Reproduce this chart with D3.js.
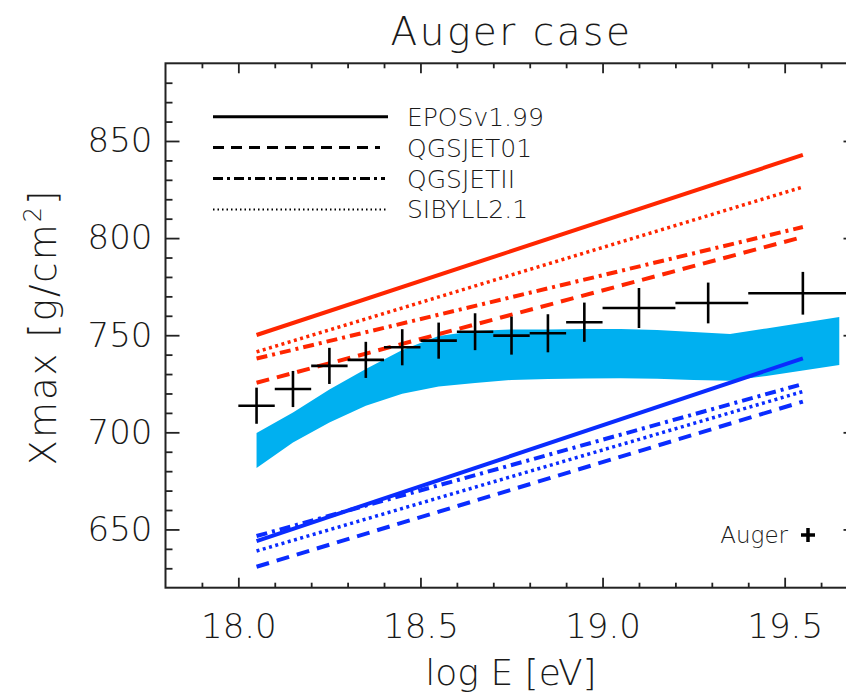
<!DOCTYPE html>
<html>
<head>
<meta charset="utf-8">
<script src="https://cdn.jsdelivr.net/npm/d3@7"></script>
<style>
  body { margin: 0; background: #fff; }
  text { font-family: "DejaVu Sans", sans-serif; font-weight: 300; fill: #1a1a1a; }
</style>
</head>
<body>
<script>
// Auger data points (log E, Xmax, error, bin edges)
const augerE = [18.05, 18.15, 18.25, 18.35, 18.45, 18.55, 18.65, 18.75, 18.85, 18.95, 19.1, 19.29, 19.55];
const augerBinLo = [18.0, 18.1, 18.2, 18.3, 18.4, 18.5, 18.6, 18.7, 18.8, 18.9, 19.0, 19.2, 19.4];
const augerBinHi = [18.1, 18.2, 18.3, 18.4, 18.5, 18.6, 18.7, 18.8, 18.9, 19.0, 19.2, 19.4, 19.7];
const augerXmax = [713.7, 722.3, 734.2, 737.3, 743.8, 747.2, 751.8, 749.8, 751.0, 756.7, 764.0, 766.6, 771.6];
const augerErr = [9.3, 9.3, 9.3, 9.3, 9.3, 9.3, 9.5, 9.8, 9.8, 10.1, 10.3, 10.5, 11.0];

// model predictions, proton (red) and iron (blue)
const modelE = [18.05, 19.55];
const protonEPOS = [750.1, 842.8];
const protonQGS01 = [725.5, 800.6];
const protonQGSII = [738.0, 805.7];
const protonSIB = [741.4, 826.3];
const ironEPOS = [644.0, 738.1];
const ironQGS01 = [630.8, 715.8];
const ironQGSII = [646.6, 724.9];
const ironSIB = [638.9, 721.0];

// shaded band
const bandE = [18.05, 18.15, 18.25, 18.35, 18.45, 18.55, 18.65, 18.75, 18.85, 18.95, 19.05, 19.15, 19.25, 19.35, 19.45, 19.55, 19.65];
const bandHi = [699.7, 710.2, 722.0, 732.6, 742.4, 749.6, 752.2, 753.0, 753.0, 753.2, 753.2, 752.7, 751.7, 750.6, 753.5, 756.4, 759.4];
const bandLo = [681.6, 694.8, 705.1, 713.7, 719.9, 723.6, 725.4, 727.0, 727.5, 727.7, 727.8, 727.6, 727.0, 726.6, 729.0, 731.8, 734.7];

const legendNames = ["EPOSv1.99", "QGSJET01", "QGSJETII", "SIBYLL2.1"];
const xTicks = [18.0, 18.5, 19.0, 19.5];
const yTicks = [650, 700, 750, 800, 850];

const width = 846;
const height = 695;

const x = d3.scaleLinear().domain([17.8, 19.7]).range([165.5, 857.5]);
const y = d3.scaleLinear().domain([620, 890]).range([587.7, 63.3]);

const RED = "#ff2600";
const BLUE = "#0a2cff";

// dash styles for plot and legend
const dashPlot = ["none", "13,8", "11,5,3,5", "3,3.5"];
const dashLegend = ["none", "11,7", "10,4,3,4", "1.5,3"];

const svg = d3.select("body").append("svg")
  .attr("width", width)
  .attr("height", height);

// band
const area = d3.area()
  .x(function (d, i) { return x(bandE[i]); })
  .y0(function (d, i) { return y(bandLo[i]); })
  .y1(function (d, i) { return y(bandHi[i]); });

svg.append("path")
  .datum(bandE)
  .attr("d", area)
  .attr("fill", "#00b0f0");

// model lines
const line = d3.line()
  .x(function (d, i) { return x(modelE[i]); })
  .y(function (d) { return y(d); });

const models = [
  { vals: protonEPOS, color: RED, k: 0 },
  { vals: protonQGS01, color: RED, k: 1 },
  { vals: protonQGSII, color: RED, k: 2 },
  { vals: protonSIB, color: RED, k: 3 },
  { vals: ironEPOS, color: BLUE, k: 0 },
  { vals: ironQGS01, color: BLUE, k: 1 },
  { vals: ironQGSII, color: BLUE, k: 2 },
  { vals: ironSIB, color: BLUE, k: 3 }
];

svg.selectAll("path.model")
  .data(models)
  .enter()
    .append("path")
    .attr("class", "model")
    .attr("d", function (d) { return line(d.vals); })
    .attr("fill", "none")
    .attr("stroke", function (d) { return d.color; })
    .attr("stroke-width", function (d) { return d.k === 3 ? 3.5 : 4; })
    .attr("stroke-dasharray", function (d) { return dashPlot[d.k]; });

// Auger crosses
const pts = svg.append("g").attr("stroke", "#000").attr("stroke-width", 2.6);
pts.selectAll("line.v")
  .data(augerE)
  .enter()
    .append("line")
    .attr("x1", function (d) { return x(d); })
    .attr("x2", function (d) { return x(d); })
    .attr("y1", function (d, i) { return y(augerXmax[i] - augerErr[i]); })
    .attr("y2", function (d, i) { return y(augerXmax[i] + augerErr[i]); });
pts.selectAll("line.h")
  .data(augerE)
  .enter()
    .append("line")
    .attr("x1", function (d, i) { return x(augerBinLo[i]); })
    .attr("x2", function (d, i) { return x(augerBinHi[i]); })
    .attr("y1", function (d, i) { return y(augerXmax[i]); })
    .attr("y2", function (d, i) { return y(augerXmax[i]); });

// axes (ticks point inwards)
const x0 = x.range()[0], x1 = x.range()[1];
const y0 = y.range()[0], y1 = y.range()[1];
const xMinor = d3.range(17.9, 19.7, 0.1).filter(function (v) { return Math.abs(v * 2 - Math.round(v * 2)) > 0.01; });
const yMinor = d3.range(630, 890, 10).filter(function (v) { return v % 50 !== 0; });

function addAxis(axis, tx, ty, fontSize) {
  const g = svg.append("g")
    .attr("transform", "translate(" + tx + "," + ty + ")")
    .call(axis);
  g.select(".domain").remove();
  g.selectAll("line").attr("stroke", "#222").attr("stroke-width", 1.8);
  g.selectAll("text").attr("font-size", fontSize).attr("fill", "#1a1a1a")
    .attr("font-family", "DejaVu Sans, sans-serif");
  return g;
}

addAxis(d3.axisBottom(x).tickValues(xTicks).tickSizeInner(-10).tickSizeOuter(0).tickPadding(26).tickFormat(d3.format(".1f")), 0, y0, 34);
addAxis(d3.axisBottom(x).tickValues(xMinor).tickSizeInner(-5).tickSizeOuter(0).tickFormat(""), 0, y0, 10);
addAxis(d3.axisTop(x).tickValues(xTicks).tickSizeInner(-10).tickSizeOuter(0).tickFormat(""), 0, y1, 10);
addAxis(d3.axisTop(x).tickValues(xMinor).tickSizeInner(-5).tickSizeOuter(0).tickFormat(""), 0, y1, 10);
addAxis(d3.axisLeft(y).tickValues(yTicks).tickSizeInner(-14).tickSizeOuter(0).tickPadding(13).tickFormat(d3.format("d")), x0, 0, 34);
addAxis(d3.axisLeft(y).tickValues(yMinor).tickSizeInner(-7).tickSizeOuter(0).tickFormat(""), x0, 0, 10);
addAxis(d3.axisRight(y).tickValues(yTicks).tickSizeInner(-14).tickSizeOuter(0).tickFormat(""), x1, 0, 10);
addAxis(d3.axisRight(y).tickValues(yMinor).tickSizeInner(-7).tickSizeOuter(0).tickFormat(""), x1, 0, 10);

// frame
svg.append("rect")
  .attr("x", x0).attr("y", y1)
  .attr("width", x1 - x0).attr("height", y0 - y1)
  .attr("fill", "none")
  .attr("stroke", "#222")
  .attr("stroke-width", 2);

// titles
svg.append("text")
  .attr("x", (x0 + x1) / 2).attr("y", 45)
  .attr("text-anchor", "middle")
  .attr("font-size", 39)
  .attr("letter-spacing", 2.5)
  .text("Auger case");

svg.append("text")
  .attr("x", 511).attr("y", 685)
  .attr("text-anchor", "middle")
  .attr("font-size", 36)
  .text("log E [eV]");

const yl = svg.append("text")
  .attr("transform", "translate(56,327) rotate(-90)")
  .attr("text-anchor", "middle")
  .attr("font-size", 37)
  .attr("letter-spacing", 2);
yl.append("tspan").text("Xmax [g/cm");
yl.append("tspan").attr("font-size", 24).attr("dy", -15).text("2");
yl.append("tspan").attr("dy", 15).text("]");

// legend
const leg = svg.append("g");
legendNames.forEach(function (name, i) {
  const ly = 116.7 + i * 30.9;
  leg.append("line")
    .attr("x1", 213).attr("x2", [388, 380, 385, 387][i])
    .attr("y1", ly).attr("y2", ly)
    .attr("stroke", "#000")
    .attr("stroke-width", i === 3 ? 2 : 3)
    .attr("stroke-dasharray", dashLegend[i]);
  leg.append("text")
    .attr("x", 407).attr("y", ly + 9)
    .attr("font-size", 25)
    .text(name);
});

// Auger legend entry
svg.append("text")
  .attr("x", 788).attr("y", 543)
  .attr("text-anchor", "end")
  .attr("font-size", 23)
  .attr("fill", "#333")
  .text("Auger");
svg.append("path")
  .attr("d", "M801,535H815M808,528V542")
  .attr("stroke", "#000")
  .attr("stroke-width", 3.5);
</script>
</body>
</html>
